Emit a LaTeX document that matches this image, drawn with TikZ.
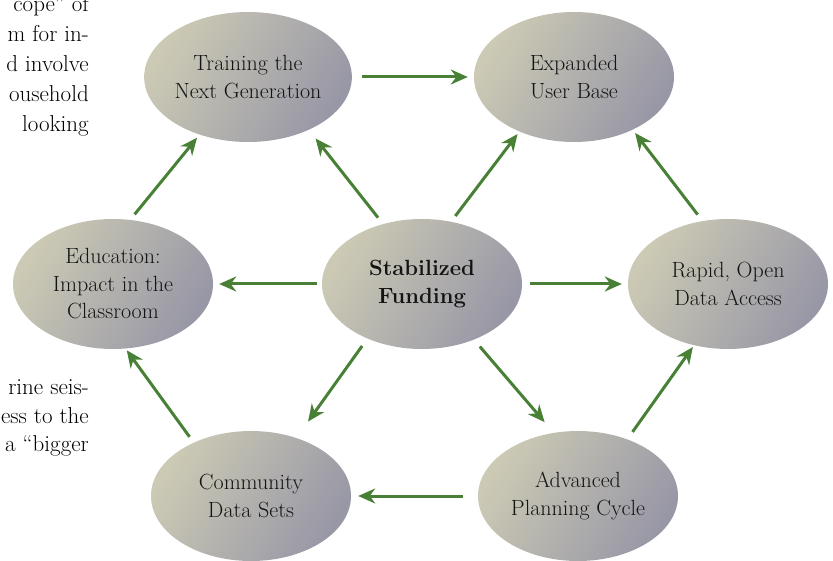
\documentclass[tikz,border=0pt]{standalone}
\usetikzlibrary{positioning, shapes.geometric, arrows.meta}

\definecolor{flowgreen}{RGB}{72,128,54}
\definecolor{ovallight}{RGB}{204,202,180}
\definecolor{ovaldark}{RGB}{152,151,166}

\begin{document}
\begin{tikzpicture}[x=1pt, y=-1pt,
		oval/.style={ellipse, minimum width=200pt, minimum height=130pt, inner sep=0pt,
			align=center, top color=ovallight, bottom color=ovaldark, shading angle=60,
			text=black!92, font=\fontsize{22}{27.5}\selectfont},
		flow/.style={draw=flowgreen, line width=3pt, -{Stealth[length=17pt, width=15pt]}},
		pagetext/.style={anchor=base east, inner sep=0pt, text=black, font=\fontsize{23}{30}\selectfont}]

		\useasboundingbox (0,0) rectangle (833,561);
		\clip (0,0) rectangle (833,561);

		%% Page text at the left
		\foreach \word [count=\i] in {cope'' of, m for in-, d involve, ousehold, looking}
			\node[pagetext] (above\i) at (89, {12+30*(\i-1)}) {\word};
		\foreach \word [count=\i] in {rine seis-, ess to the, a ``bigger}
			\node[pagetext] (below\i) at (89, {395+28*(\i-1)}) {\word};

		%% Nodes
		\node[oval] (train) at (248,77) {Training the\\Next Generation};
		\node[oval] (expanded) at (574,77) {Expanded\\User Base};
		\node[oval] (education) at (113,284) {Education:\\Impact in the\\Classroom};
		\node[oval, font=\fontsize{22}{27.5}\selectfont\bfseries] (stab) at (422,284) {Stabilized\\Funding};
		\node[oval] (rapid) at (728,284) {Rapid, Open\\Data Access};
		\node[oval] (community) at (251,496) {Community\\Data Sets};
		\node[oval] (advanced) at (578,496) {Advanced\\Planning Cycle};

		%% Edges
		\draw[flow, shorten <=10pt, shorten >=6pt] (train.0) -- (expanded.180);
		\draw[flow, shorten <=15pt, shorten >=7pt] (advanced.180) -- (community.0);

		\draw[flow, shorten <=5pt, shorten >=6pt] (stab.180) -- (education.0);
		\draw[flow, shorten <=8pt, shorten >=6pt] (stab.0) -- (rapid.180);
		\draw[flow, shorten <=8pt, shorten >=11pt] (stab.123) -- (train.-41);
		\draw[flow, shorten <=7pt, shorten >=3pt] (stab.65) -- (expanded.-135);
		\draw[flow, shorten <=9pt, shorten >=20pt] (stab.-135) -- (community.52);
		\draw[flow, shorten <=9pt, shorten >=14pt] (stab.-47) -- (advanced.111);

		\draw[flow, shorten <=7pt, shorten >=4pt] (education.75) -- (train.-130);
		\draw[flow, shorten <=7pt, shorten >=2pt] (community.137) -- (education.-79);
		\draw[flow, shorten <=8pt, shorten >=4pt] (rapid.112) -- (expanded.-42);
		\draw[flow, shorten <=9pt, shorten >=2pt] (advanced.49) -- (rapid.-119);
	\end{tikzpicture}
\end{document}
